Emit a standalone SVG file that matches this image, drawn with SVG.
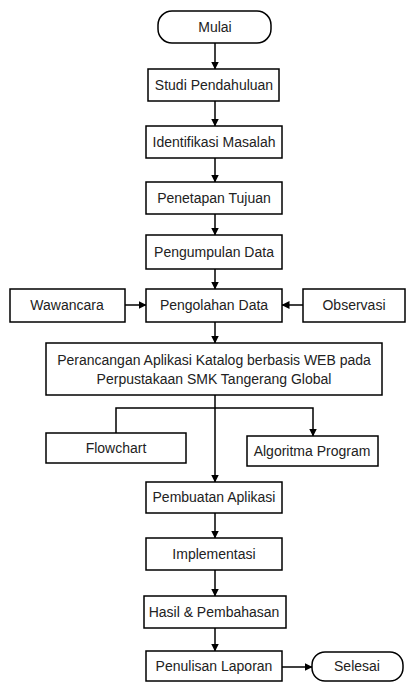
<svg xmlns="http://www.w3.org/2000/svg" width="406" height="682" viewBox="0 0 406 682">
<style>
.b{fill:#fff;stroke:#000;stroke-width:1.5}
.t{font-family:"Liberation Sans",Arial,sans-serif;font-size:14px;fill:#222;text-anchor:middle;dominant-baseline:central}
.c{fill:none;stroke:#000;stroke-width:1.5}
</style>
<defs>
<marker id="a" markerWidth="8" markerHeight="8" refX="7.5" refY="4" orient="auto" markerUnits="userSpaceOnUse">
<path d="M0,0 L8,4 L0,8 Z" fill="#000"/>
</marker>
</defs>
<rect width="406" height="682" fill="#fff"/>
<g id="connectors">
<path class="c" d="M215,43 V69" stroke="#666" marker-end="url(#a)"/>
<path class="c" d="M215,101 V126" marker-end="url(#a)"/>
<path class="c" d="M215,158 V182" marker-end="url(#a)"/>
<path class="c" d="M215,214 V235" marker-end="url(#a)"/>
<path class="c" d="M215,269 V289" marker-end="url(#a)"/>
<path class="c" d="M125,305 H146" marker-end="url(#a)"/>
<path class="c" d="M303,305 H282" marker-end="url(#a)"/>
<path class="c" d="M215,322 V343" marker-end="url(#a)"/>
<path class="c" d="M215,395 V482" marker-end="url(#a)"/>
<path class="c" d="M116,433 V408 H313 V436" marker-end="url(#a)"/>
<path class="c" d="M215,513 V538" marker-end="url(#a)"/>
<path class="c" d="M215,570 V596" marker-end="url(#a)"/>
<path class="c" d="M215,628 V651" marker-end="url(#a)"/>
<path class="c" d="M282,667 H312" marker-end="url(#a)"/>
</g>
<g id="mulai"><rect class="b" x="158" y="11" width="113" height="32" rx="14"/><text class="t" x="215" y="27">Mulai</text></g>
<g id="studi"><rect class="b" x="148" y="69" width="131" height="32"/><text class="t" x="214" y="85">Studi Pendahuluan</text></g>
<g id="identifikasi"><rect class="b" x="146" y="126" width="136" height="32"/><text class="t" x="214" y="142">Identifikasi Masalah</text></g>
<g id="penetapan"><rect class="b" x="146" y="182" width="136" height="32"/><text class="t" x="214" y="198">Penetapan Tujuan</text></g>
<g id="pengumpulan"><rect class="b" x="146" y="235" width="136" height="34"/><text class="t" x="214" y="252">Pengumpulan Data</text></g>
<g id="wawancara"><rect class="b" x="10" y="289" width="115" height="33"/><text class="t" x="67" y="305">Wawancara</text></g>
<g id="pengolahan"><rect class="b" x="146" y="289" width="136" height="33"/><text class="t" x="214" y="305">Pengolahan Data</text></g>
<g id="observasi"><rect class="b" x="303" y="289" width="102" height="33"/><text class="t" x="354" y="305">Observasi</text></g>
<g id="perancangan"><rect class="b" x="46" y="343" width="336" height="52"/><text class="t" x="214" y="360">Perancangan Aplikasi Katalog berbasis WEB pada</text><text class="t" x="214" y="379">Perpustakaan SMK Tangerang Global</text></g>
<g id="flowchart"><rect class="b" x="46" y="433" width="140" height="30"/><text class="t" x="116" y="448">Flowchart</text></g>
<g id="algoritma"><rect class="b" x="247" y="436" width="131" height="30"/><text class="t" x="312" y="451">Algoritma Program</text></g>
<g id="pembuatan"><rect class="b" x="146" y="482" width="136" height="31"/><text class="t" x="214" y="497">Pembuatan Aplikasi</text></g>
<g id="implementasi"><rect class="b" x="146" y="538" width="136" height="32"/><text class="t" x="214" y="554">Implementasi</text></g>
<g id="hasil"><rect class="b" x="144" y="596" width="142" height="32"/><text class="t" x="214" y="612">Hasil &amp; Pembahasan</text></g>
<g id="penulisan"><rect class="b" x="146" y="651" width="136" height="30"/><text class="t" x="214" y="666">Penulisan Laporan</text></g>
<g id="selesai"><rect class="b" x="312" y="652" width="91" height="29" rx="13"/><text class="t" x="357" y="666">Selesai</text></g>
</svg>
